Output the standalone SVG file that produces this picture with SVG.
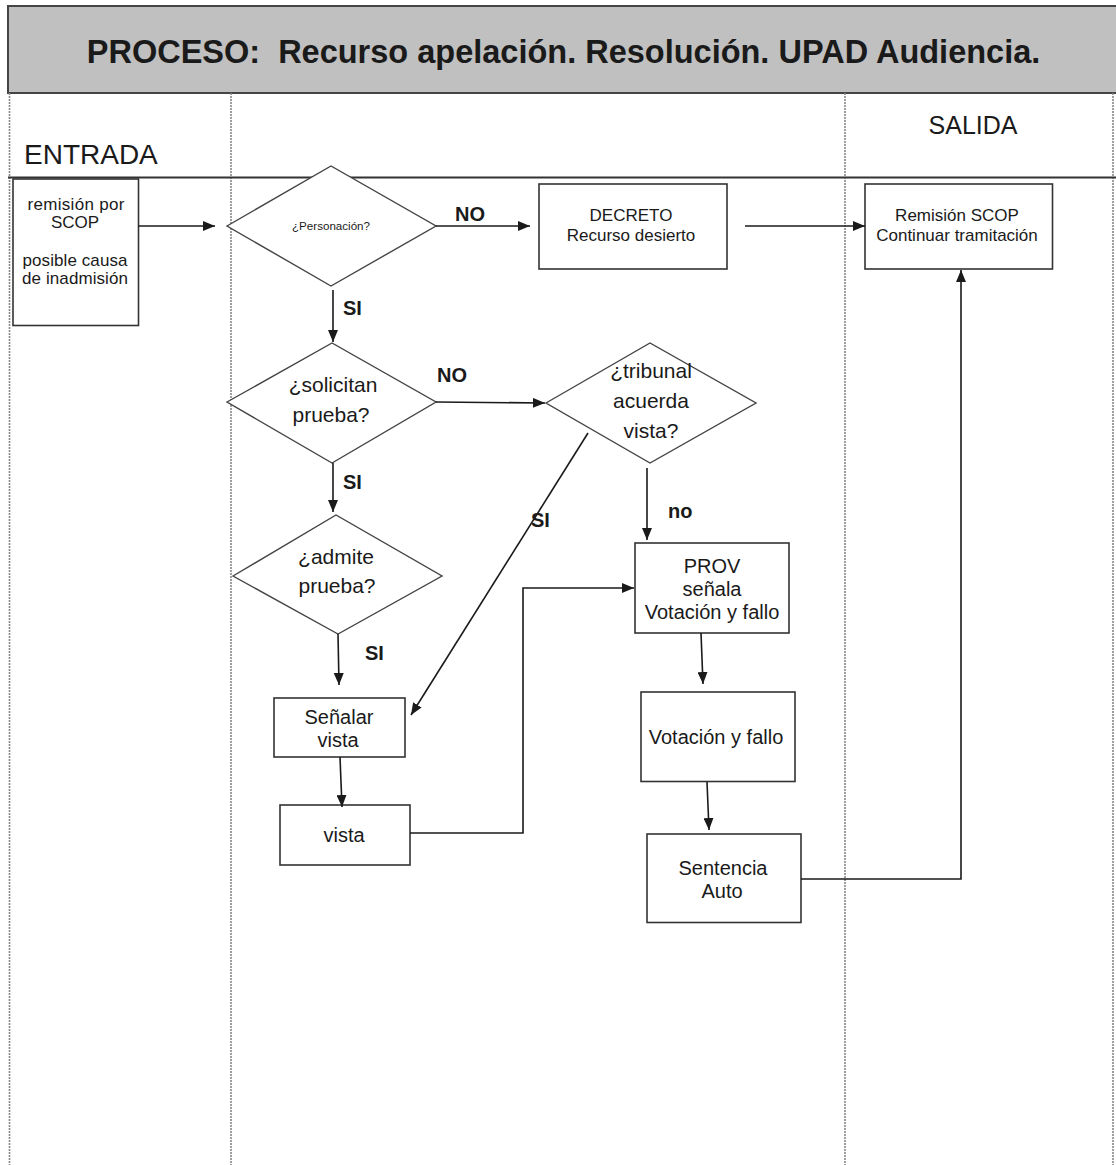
<svg xmlns="http://www.w3.org/2000/svg" width="1116" height="1165" viewBox="0 0 1116 1165">
  <defs>
    <marker id="arrow" viewBox="0 0 12 10" refX="12" refY="5" markerWidth="12" markerHeight="10" markerUnits="userSpaceOnUse" orient="auto">
      <path d="M0,0 L12,5 L0,10 z" fill="#1a1a1a"/>
    </marker>
  </defs>
  <style>
    text { font-family: "Liberation Sans", Arial, sans-serif; fill: #1a1a1a; }
    .box { fill: #fff; stroke: #333; stroke-width: 1.6; }
    .dia { fill: #fff; stroke: #444; stroke-width: 1.4; }
    .lane { stroke: #888; stroke-width: 1.6; stroke-dasharray: 2 1; fill: none; }
    .conn { fill: none; stroke: #1a1a1a; stroke-width: 1.6; }
    .c { text-anchor: middle; }
    .t17 { font-size: 17px; }
    .t21 { font-size: 21px; }
    .t20 { font-size: 20px; }
    .lbl { font-size: 20px; font-weight: bold; }
  </style>

  <rect width="1116" height="1165" fill="#fff"/>

  <!-- header band -->
  <g id="header">
    <rect x="8" y="6" width="1120" height="87" fill="#c0c0c0" stroke="#444" stroke-width="2"/>
    <text x="563.5" y="63" class="c" font-size="32.5" font-weight="bold" xml:space="preserve">PROCESO:  Recurso apelación. Resolución. UPAD Audiencia.</text>
  </g>

  <!-- swimlanes -->
  <g id="lanes">
    <line class="lane" x1="9.5" y1="93" x2="9.5" y2="1165"/>
    <line class="lane" x1="231" y1="93" x2="231" y2="1165"/>
    <line class="lane" x1="845" y1="93" x2="845" y2="1165"/>
    <line class="lane" x1="1113" y1="93" x2="1113" y2="1165"/>
    <line x1="8" y1="177.5" x2="1116" y2="177.5" stroke="#333" stroke-width="2"/>
    <text x="24" y="164" font-size="28">ENTRADA</text>
    <text x="973" y="134" class="c" font-size="25">SALIDA</text>
  </g>

  <!-- nodes -->
  <g id="n-remision">
    <rect class="box" x="13" y="179" width="125.5" height="146.5"/>
    <text class="c t17" x="76" y="210" textLength="97">remisión por</text>
    <text class="c t17" x="75" y="228">SCOP</text>
    <text class="c t17" x="75" y="266" textLength="105">posible causa</text>
    <text class="c t17" x="75" y="284" textLength="106">de inadmisión</text>
  </g>

  <g id="n-personacion">
    <polygon class="dia" points="227,226 331,166 436,226 331,286"/>
    <text class="c" x="331" y="229.5" font-size="10" textLength="78" lengthAdjust="spacingAndGlyphs">¿Personación?</text>
  </g>

  <g id="n-decreto">
    <rect class="box" x="539" y="184" width="188" height="85"/>
    <text class="c t17" x="631" y="221">DECRETO</text>
    <text class="c t17" x="631" y="241">Recurso desierto</text>
  </g>

  <g id="n-remision-scop">
    <rect class="box" x="865" y="184" width="187.5" height="85"/>
    <text class="c t17" x="957" y="221">Remisión SCOP</text>
    <text class="c t17" x="957" y="241">Continuar tramitación</text>
  </g>

  <g id="n-solicitan">
    <polygon class="dia" points="227,402 332,343 436,402 332,463"/>
    <text class="c t21" x="333" y="392">¿solicitan</text>
    <text class="c t21" x="331" y="422">prueba?</text>
  </g>

  <g id="n-tribunal">
    <polygon class="dia" points="546,403 650,343 756,403 650,463"/>
    <text class="c t21" x="651" y="378">¿tribunal</text>
    <text class="c t21" x="651" y="408">acuerda</text>
    <text class="c t21" x="651" y="438">vista?</text>
  </g>

  <g id="n-admite">
    <polygon class="dia" points="233,576 336,515 442,576 338,634"/>
    <text class="c t21" x="336" y="564">¿admite</text>
    <text class="c t21" x="337" y="593">prueba?</text>
  </g>

  <g id="n-senalar">
    <rect class="box" x="274" y="698" width="131" height="59"/>
    <text class="c t20" x="339" y="724">Señalar</text>
    <text class="c t20" x="338" y="747">vista</text>
  </g>

  <g id="n-vista">
    <rect class="box" x="280" y="805" width="130" height="60"/>
    <text class="c t20" x="344" y="842">vista</text>
  </g>

  <g id="n-prov">
    <rect class="box" x="635" y="543" width="154" height="90"/>
    <text class="c t20" x="712" y="573">PROV</text>
    <text class="c t20" x="712" y="596">señala</text>
    <text class="c t20" x="712" y="619">Votación y fallo</text>
  </g>

  <g id="n-votacion">
    <rect class="box" x="641" y="692" width="154" height="89.5"/>
    <text class="c t20" x="716" y="744">Votación y fallo</text>
  </g>

  <g id="n-sentencia">
    <rect class="box" x="647" y="834" width="154" height="88.5"/>
    <text class="c t20" x="723" y="875">Sentencia</text>
    <text class="c t20" x="722" y="898">Auto</text>
  </g>

  <!-- connectors -->
  <g id="connectors">
    <path class="conn" marker-end="url(#arrow)" d="M138.5,226 L215,226"/>
    <path class="conn" marker-end="url(#arrow)" d="M436,226 L530,226"/>
    <path class="conn" marker-end="url(#arrow)" d="M745,226 L865,226"/>
    <path class="conn" marker-end="url(#arrow)" d="M333,290 L333,342"/>
    <path class="conn" marker-end="url(#arrow)" d="M436,402 L545,403"/>
    <path class="conn" marker-end="url(#arrow)" d="M333,463 L333,512"/>
    <path class="conn" marker-end="url(#arrow)" d="M338,634 L339,685"/>
    <path class="conn" marker-end="url(#arrow)" d="M647,468 L647,540"/>
    <path class="conn" marker-end="url(#arrow)" d="M588,433 L411,715"/>
    <path class="conn" marker-end="url(#arrow)" d="M340,757 L342,807"/>
    <path class="conn" marker-end="url(#arrow)" d="M410,833 L523,833 L523,588 L634,588"/>
    <path class="conn" marker-end="url(#arrow)" d="M701,633 L703,684"/>
    <path class="conn" marker-end="url(#arrow)" d="M707,782 L709,830"/>
    <path class="conn" marker-end="url(#arrow)" d="M801,879 L961,879 L961,270"/>

    <text class="lbl" x="455" y="221">NO</text>
    <text class="lbl" x="343" y="315">SI</text>
    <text class="lbl" x="437" y="382">NO</text>
    <text class="lbl" x="343" y="489">SI</text>
    <text class="lbl" x="531" y="527">SI</text>
    <text class="lbl" x="668" y="518">no</text>
    <text class="lbl" x="365" y="660">SI</text>
  </g>
</svg>
